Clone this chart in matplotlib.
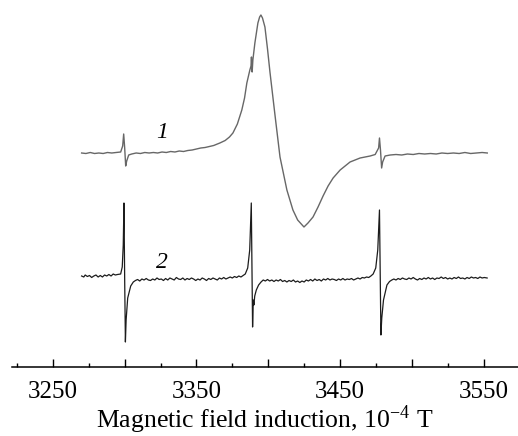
import matplotlib
matplotlib.use('Agg')
import matplotlib.pyplot as plt
from matplotlib.ticker import MultipleLocator, FuncFormatter

# EPR spectra, field in 10^-4 T, signal in arbitrary units
FIELD_1 = [3270, 3273, 3276, 3279, 3282, 3285, 3288, 3291, 3294, 3297.2,
           3298.6, 3299.3, 3300.0, 3300.7, 3301.4, 3302.8, 3304.9, 3308, 3311, 3314,
           3317, 3320, 3323, 3326, 3329, 3332, 3335, 3338, 3341, 3344,
           3347, 3350, 3353, 3356, 3359, 3362, 3366.3, 3370, 3373, 3375.4,
           3378.5, 3381.6, 3383.5, 3385.1, 3387.2, 3388.0, 3388.3, 3388.8, 3389.3, 3390.7,
           3392.8, 3394.0, 3394.9, 3396.0, 3397.7, 3399.5, 3401.2, 3404.7, 3408.2, 3413.0,
           3417.2, 3420.5, 3424.9, 3427.7, 3431.2, 3434.7, 3438.2, 3441.7, 3445.2, 3450.1,
           3457.0, 3464.0, 3471.0, 3474.5, 3476.9, 3477.5, 3478.2, 3479.0, 3479.7,
           3481.4, 3485, 3489, 3493, 3497, 3501, 3505, 3509, 3513, 3517,
           3521, 3525, 3529, 3533, 3537, 3541, 3545, 3549, 3552.6]
SIGNAL_1 = [214, 213.5, 214.5, 213.5, 214, 213.5, 214.5, 214, 214.5, 215,
            221, 233, 219, 201, 206, 212, 213, 214, 213.5, 214.5,
            214, 214.5, 214, 215, 214.5, 215.5, 215, 216, 215.5, 216.5,
            217, 218, 219, 219.5, 220.5, 221.5, 224, 226.5, 230, 234,
            243, 257, 269, 284, 297, 301, 310, 295, 307, 324,
            344, 350, 352, 349, 340, 318, 295, 252, 210, 177,
            157, 147, 140, 144, 150, 160, 171, 181, 189, 197,
            205, 209, 211, 212.5, 219, 229, 217, 199, 205,
            211, 212, 212.5, 212, 213, 212.5, 213.5, 213, 213.5, 213,
            214, 213.5, 214, 213.5, 214.5, 213.5, 214, 214.5, 214]

FIELD_2 = [3270.0, 3271.5, 3272.5, 3274.0, 3275.5, 3277.0, 3278.5, 3280.0, 3281.5, 3283.0,
           3284.5, 3286.0, 3287.5, 3289.0, 3290.5, 3292.0, 3293.5, 3295.0, 3297.2, 3298.3,
           3299.0, 3299.5, 3300.0, 3300.5, 3301.0, 3302.1, 3304.2, 3306.0, 3307.5, 3309,
           3310.5, 3312, 3313.5, 3315, 3316.5, 3318, 3319.5, 3321, 3322.5, 3324,
           3325.5, 3327, 3328.5, 3330, 3331.5, 3333, 3334.5, 3336, 3337.5, 3339,
           3340.5, 3342, 3343.5, 3345, 3346.5, 3348, 3349.5, 3351, 3352.5, 3354,
           3355.5, 3357, 3358.5, 3360, 3361.5, 3363, 3364.5, 3366, 3367.5, 3369,
           3370.5, 3372, 3373.5, 3375, 3376.5, 3378, 3379.5, 3381, 3382.5, 3384,
           3385.7, 3387.1, 3388.2, 3388.7, 3389.1, 3389.6, 3390.0, 3390.6, 3391.7, 3393.3,
           3395.0, 3396.5, 3398, 3399.5, 3401, 3402.5, 3404, 3405.5, 3407, 3408.5,
           3410, 3411.5, 3413, 3414.5, 3416, 3417.5, 3419, 3420.5, 3422, 3423.5,
           3425, 3426.5, 3428, 3429.5, 3431, 3432.5, 3434, 3435.5, 3437, 3438.5,
           3440, 3441.5, 3443, 3444.5, 3446, 3447.5, 3449, 3450.5, 3452, 3453.5,
           3455, 3456.5, 3458, 3459.5, 3461, 3462.5, 3464, 3465.5, 3467, 3468.5,
           3470, 3471.5, 3473.1, 3474.9, 3476.3, 3477.5, 3478.0, 3478.5, 3479.1, 3480.3,
           3482.7, 3484.5, 3486.1, 3487.5, 3489, 3490.5, 3492, 3493.5, 3495, 3496.5,
           3498, 3499.5, 3501, 3502.5, 3504, 3505.5, 3507, 3508.5, 3510, 3511.5,
           3513, 3514.5, 3516, 3517.5, 3519, 3520.5, 3522, 3523.5, 3525, 3526.5,
           3528, 3529.5, 3531, 3532.5, 3534, 3535.5, 3537, 3538.5, 3540, 3541.5,
           3543, 3544.5, 3546, 3547.5, 3549, 3550.5, 3552.5]
SIGNAL_2 = [91, 90, 92, 90.5, 91.5, 89.5, 91, 92, 90, 91.5,
            90, 92, 91, 92.5, 91, 93, 92, 92.5, 93, 100,
            122, 164, 87, 25, 47, 69, 81, 85, 86.5, 87.5,
            86, 88, 87, 88.5, 87, 86.5, 88, 87, 89, 87.5,
            88, 86.5, 88.5, 87, 89, 88, 87, 89.5, 88, 87.5,
            89, 87, 88.5, 87.5, 89, 88, 86.5, 88, 87, 89,
            88, 86.5, 88.5, 87.5, 89, 88, 87, 89, 88, 89.5,
            88, 89, 90, 89, 90.5, 89.5, 91, 90, 91.5, 93,
            99, 117, 164, 97, 40, 67, 62, 71, 77, 82,
            85, 87, 86, 87.5, 86, 87, 85.5, 87, 86, 87.5,
            85.5, 86.5, 85, 86.5, 85.5, 87, 85, 86, 84.5, 86,
            85, 87, 86, 87.5, 86, 88, 86.5, 87.5, 86, 88,
            87, 88.5, 87, 88, 87.5, 86.5, 88, 87, 88.5, 87,
            88, 87.5, 88.5, 87, 88, 89, 88, 89.5, 89, 90,
            89.5, 91, 93, 99, 117, 157, 92, 32, 49, 67,
            82, 85.5, 87, 88, 87, 88.5, 87.5, 89, 88, 87.5,
            89, 88, 89.5, 88, 87, 88.5, 87.5, 89, 88, 89.5,
            88, 89, 87.5, 89, 88.5, 90, 88.5, 89.5, 88, 89,
            88, 89.5, 88.5, 90, 88.5, 89, 88, 89.5, 88.5, 90,
            89, 89.5, 88.5, 90, 89, 89.5, 89]

TRACE_LABELS = ['1', '2']
LABEL_POS = [(3326, 235), (3326, 105)]
TICK_LABELS = [3250, 3350, 3450, 3550]

plt.rcParams['font.family'] = ['Liberation Serif', 'DejaVu Serif']
plt.rcParams['mathtext.fontset'] = 'stix'

fig = plt.figure(figsize=(5.18, 4.36), dpi=100)
ax = fig.add_axes([12 / 518, 69 / 436, 506 / 518, 367 / 436])

ax.plot(FIELD_1, SIGNAL_1, color='#676767', lw=1.0)
ax.plot(FIELD_2, SIGNAL_2, color='#1c1c1c', lw=0.9)
for txt, (x, y) in zip(TRACE_LABELS, LABEL_POS):
    ax.text(x, y, txt, fontsize=17, style='italic', ha='center', va='center')

ax.set_xlim(3221.5, 3574)
ax.set_ylim(0, 367)
for s in ['left', 'top', 'right']:
    ax.spines[s].set_visible(False)
ax.spines['bottom'].set_linewidth(1.1)
ax.set_yticks([])
ax.xaxis.set_major_locator(MultipleLocator(50))
ax.xaxis.set_minor_locator(MultipleLocator(25))
ax.xaxis.set_major_formatter(FuncFormatter(
    lambda v, p: f'{v:.0f}' if round(v) in TICK_LABELS else ''))
ax.tick_params(axis='x', which='major', direction='in', length=6, width=1.0,
               labelsize=18, pad=10)
ax.tick_params(axis='x', which='minor', direction='in', length=3, width=1.0)
ax.set_xlabel(r'Magnetic field induction, 10$^{\mathregular{-4}}$ T',
              fontsize=18.5, labelpad=0)

fig.savefig('out.png', dpi=100)
